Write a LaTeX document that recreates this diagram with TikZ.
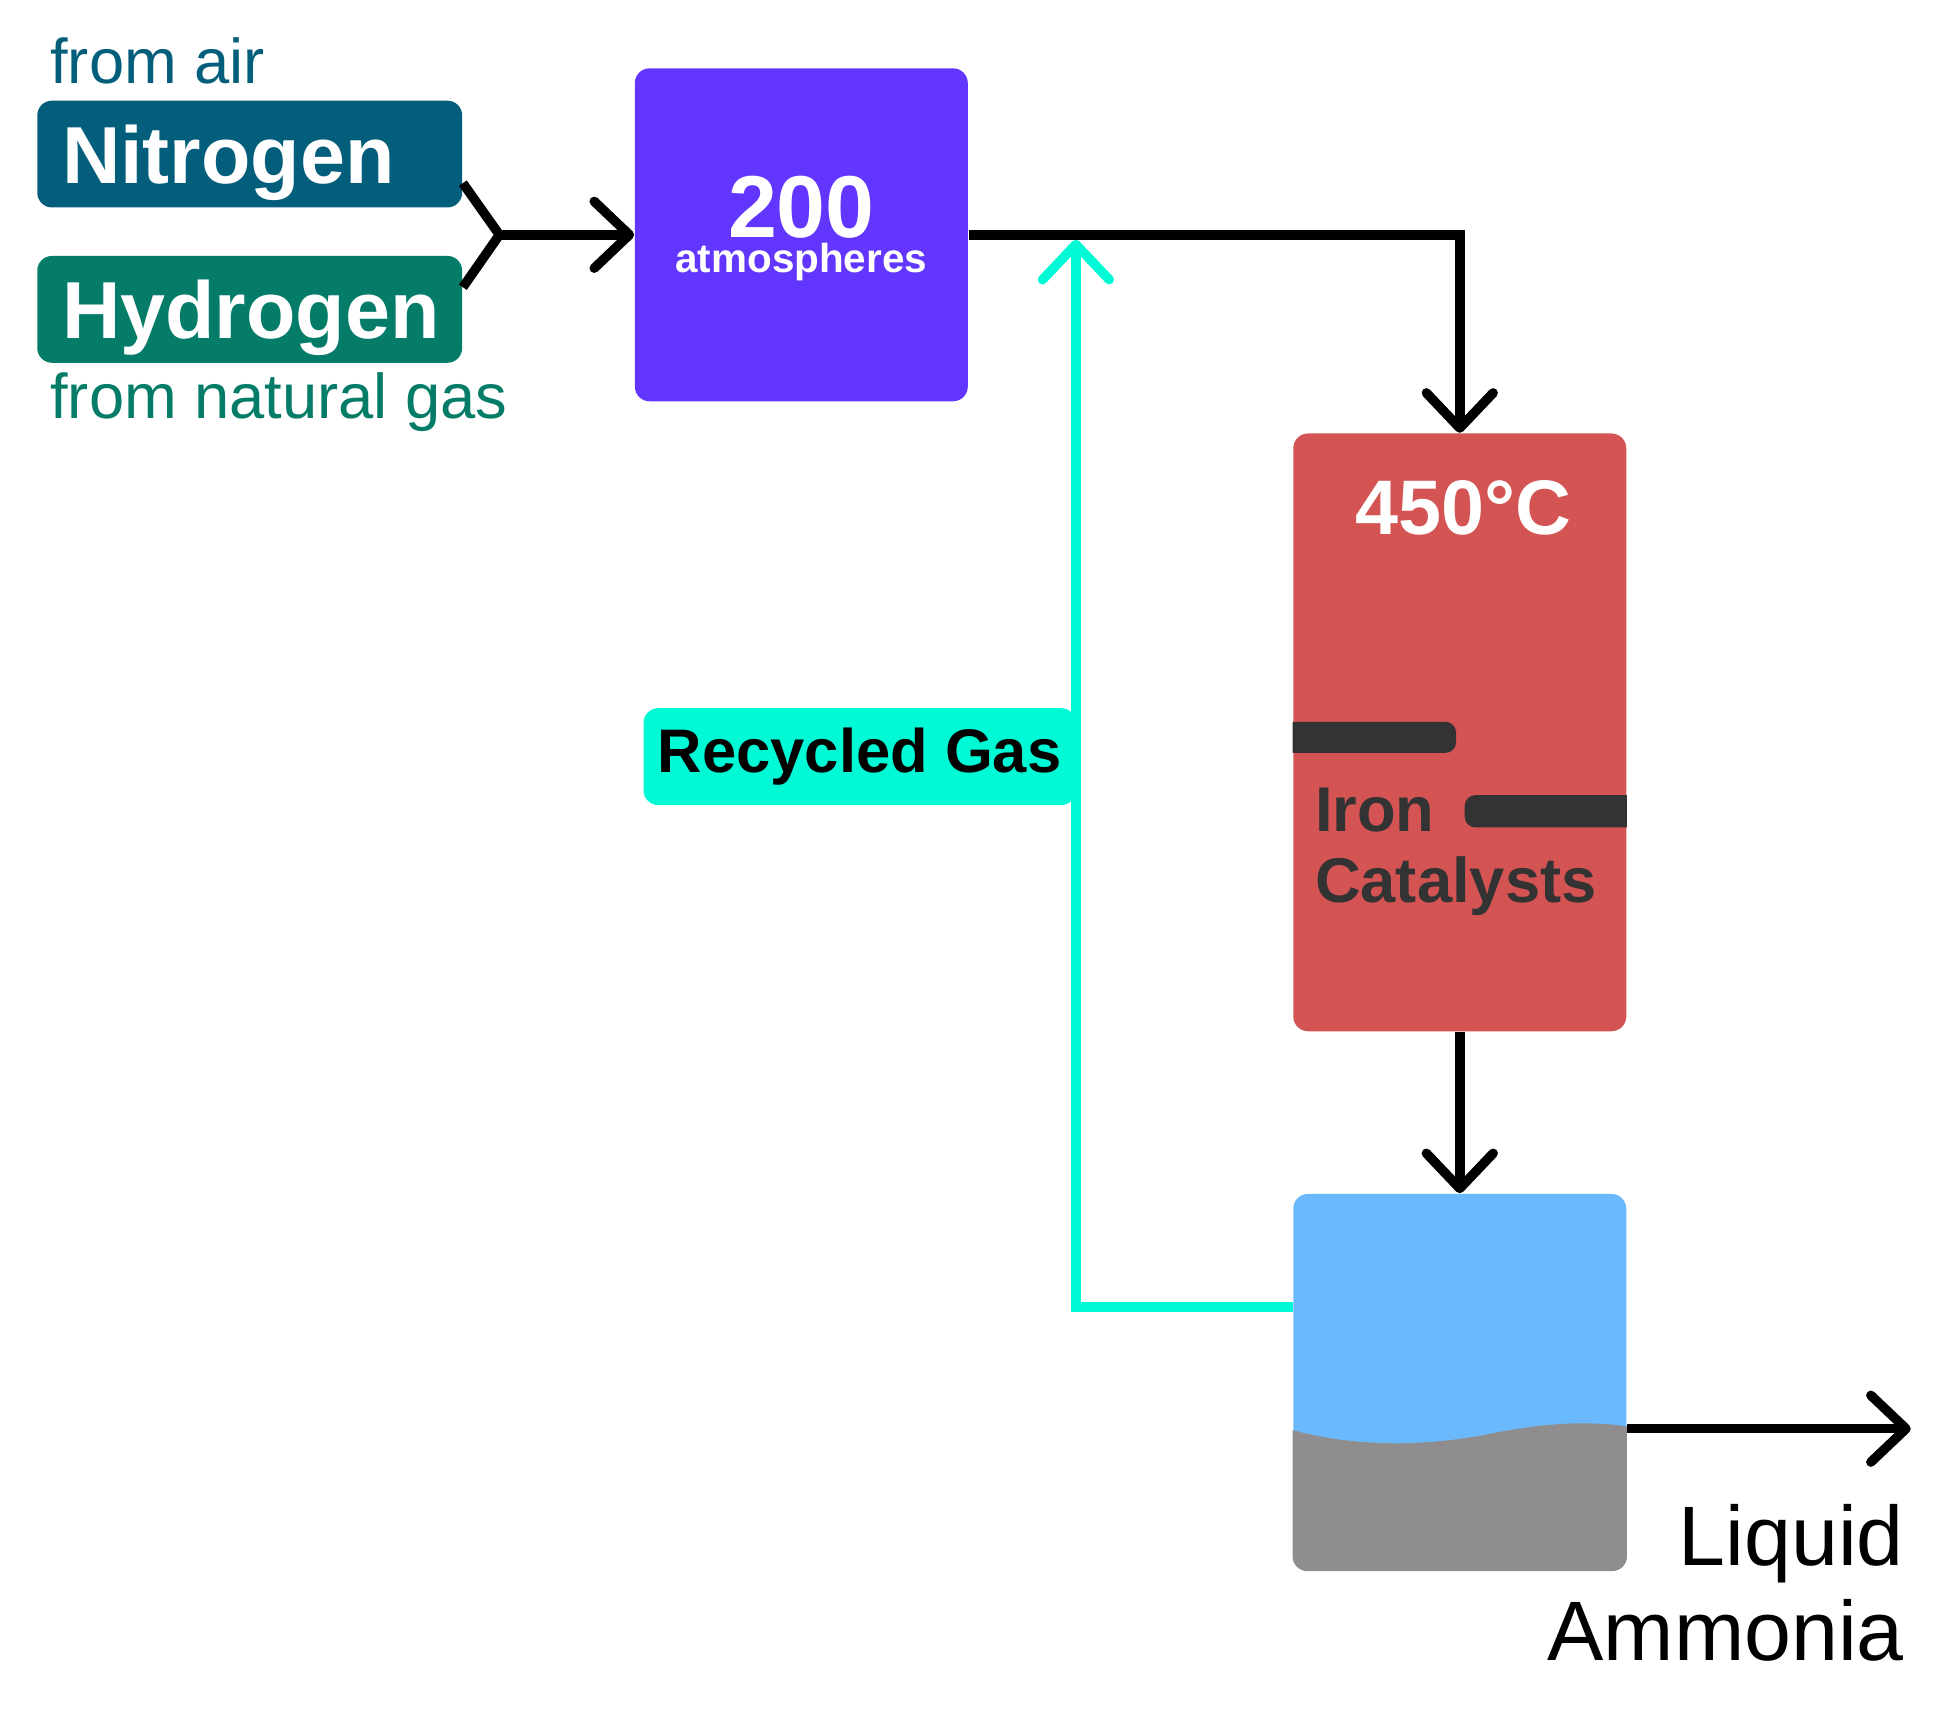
\documentclass[tikz,border=0pt]{standalone}
\usepackage{fontspec}
\setmainfont{Liberation Sans}
\usetikzlibrary{arrows.meta}
\definecolor{nitro}{RGB}{3,94,123}
\definecolor{hydro}{RGB}{4,124,104}
\definecolor{press}{RGB}{98,54,255}
\definecolor{reactor}{RGB}{212,83,83}
\definecolor{bar}{RGB}{51,51,51}
\definecolor{tankblue}{RGB}{106,185,252}
\definecolor{tankgray}{RGB}{143,141,142}
\definecolor{recycle}{RGB}{0,250,214}

\begin{document}
\begin{tikzpicture}[x=0.012423cm, y=-0.012423cm,
  flow/.style={line width=2.7pt, -{Straight Barb[length=10pt,width=19pt,round]}},
  gasbox/.style={rounded corners=4.2pt, minimum height=1.068cm, text width=3.752cm, inner xsep=0.248cm, align=left, text=white, font=\fontsize{23}{26}\selectfont\bfseries, text depth=0pt},
  vessel/.style={rounded corners=4.2pt, minimum width=3.329cm, inner sep=0pt},
  source/.style={anchor=base west, inner sep=0pt, font=\fontsize{18}{21}\selectfont}]
\useasboundingbox (0,0) rectangle (1568,1384);

\node[source, text=nitro] (air) at (40,67) {from air};
\node[gasbox, fill=nitro] (nitrogen) at (201,124) {Nitrogen};
\node[gasbox, fill=hydro] (hydrogen) at (201,249) {Hydrogen};
\node[source, text=hydro] (natgas) at (40,337) {from natural gas};

\node[vessel, fill=press, minimum height=3.329cm] (atm) at (645,189) {};
\node[anchor=north, inner sep=0pt, align=center, text=white, font=\fontsize{11.5}{10}\selectfont\bfseries] (pressure) at (645,141) {{\fontsize{25}{28}\selectfont 200}\\atmospheres};

\node[vessel, fill=reactor, minimum height=5.976cm] (reactor) at (1175,589.5) {};
\node[anchor=base, text=white, font=\fontsize{22}{26}\selectfont\bfseries] (temp) at (1178,430) {450°C};
\begin{scope}
\clip (reactor.south west) rectangle (reactor.north east);
\fill[bar, rounded corners=3pt] (1020,581) rectangle (1172,606);
\fill[bar, rounded corners=3pt] (1179,640) rectangle (1330,666);
\end{scope}
\node[anchor=north west, inner sep=0pt, align=left, text=bar, font=\fontsize{18}{20}\selectfont\bfseries] (iron) at (1058,634) {Iron\\Catalysts};

\node[vessel, fill=tankblue, minimum height=3.764cm] (tank) at (1175,1112.5) {};
\begin{scope}
\clip[rounded corners=4.2pt] (tank.south west) rectangle (tank.north east);
\fill[tankgray] (1030,1148) .. controls (1080,1164) and (1140,1166) .. (1200,1154) .. controls (1240,1146) and (1280,1142) .. (1320,1150) -- (1320,1280) -- (1030,1280) -- cycle;
\end{scope}

\node[fill=recycle, rounded corners=4.2pt, minimum width=4.323cm, minimum height=0.969cm, font=\fontsize{17.5}{20}\selectfont\bfseries] (recycled) at (692,609) {Recycled Gas};

\coordinate (join) at (402,189);
\draw[line width=2.7pt, line join=round] ([yshift=0.25cm]nitrogen.south east) -- (join) -- ([yshift=-0.32cm]hydrogen.north east);
\draw[flow] (join) -- (atm.west);
\draw[flow] (atm.east) -| (reactor.north);
\draw[flow] (reactor.south) -- (tank.north);

\coordinate (outend) at (1538,1150);
\draw[flow] (tank.east |- outend) -- (outend);
\node[anchor=east, inner sep=0pt, align=right, font=\fontsize{24}{27}\selectfont] (ammonia) at (1533,1274) {Liquid\\Ammonia};

\coordinate (rbend) at (866,1052);
\coordinate (rtop) at (866,193);
\draw[flow, recycle] (tank.west |- rbend) -- (rbend) -- (rtop);
\end{tikzpicture}
\end{document}
